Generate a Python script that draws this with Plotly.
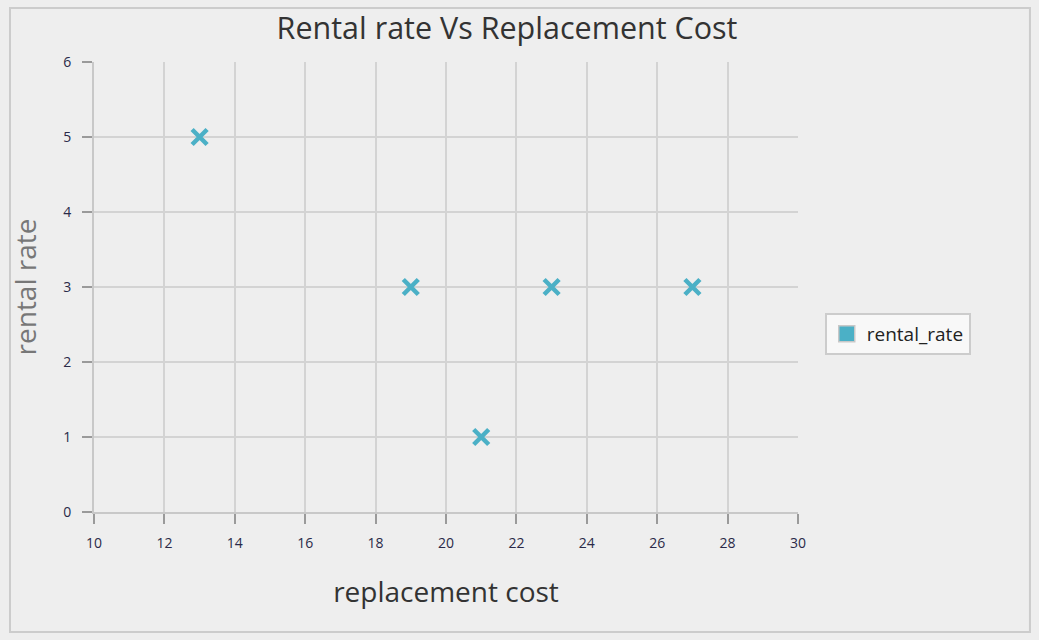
import plotly.graph_objects as go

replacement_cost = [13, 19, 21, 23, 27]
rental_rate = [5, 3, 1, 3, 3]
series_name = "rental_rate"
x_ticks = [10, 12, 14, 16, 18, 20, 22, 24, 26, 28, 30]
y_ticks = [0, 1, 2, 3, 4, 5, 6]

color = "#4bb0c6"
FONT = "Open Sans"
fig = go.Figure()
fig.add_trace(go.Scatter(
    x=replacement_cost, y=rental_rate, mode="markers", name=series_name,
    showlegend=False,
    marker=dict(symbol="x-thin", size=15, color=color,
                line=dict(width=4.5, color=color)),
))
fig.add_trace(go.Scatter(
    x=[None], y=[None], mode="markers", name=series_name, showlegend=True,
    marker=dict(symbol="square", size=20, color=color,
                line=dict(width=1.5, color="#c8c8c8")),
))

axis_common = dict(
    showgrid=True, gridcolor="#d3d3d3", gridwidth=2,
    showline=True, linecolor="#c8c8c8", linewidth=2,
    ticks="outside", ticklen=10, tickcolor="#9a9a9a", tickwidth=2,
    zeroline=False,
    tickfont=dict(family=FONT, size=14, color="#2a2a48"),
)
fig.update_xaxes(range=[10, 30], tickvals=x_ticks, **axis_common,
                 ticklabelstandoff=7,
                 title=dict(text="replacement cost", standoff=32,
                            font=dict(family=FONT, size=28, color="#333333")))
fig.update_yaxes(range=[0, 6], tickvals=y_ticks, **axis_common,
                 ticklabelstandoff=8,
                 title=dict(text="rental rate", standoff=18,
                            font=dict(family=FONT, size=28, color="#777777")))

fig.update_layout(
    width=1039, height=640,
    margin=dict(l=94, r=241, t=62, b=128),
    paper_bgcolor="#eeeeee", plot_bgcolor="#eeeeee",
    title=dict(text="Rental rate Vs Replacement Cost", x=0.488, xanchor="center",
               y=0.955, yanchor="middle",
               font=dict(family=FONT, size=30.5, color="#333333")),
    legend=dict(x=1.038, y=0.396, xanchor="left", yanchor="middle",
                bgcolor="#f8f8f8", bordercolor="#cccccc", borderwidth=2,
                font=dict(family=FONT, size=19, color="#222222")),
    shapes=[dict(type="rect", xref="paper", yref="paper",
                 x0=-0.1193, x1=1.3295, y0=-0.2667, y1=1.12, layer="below",
                 line=dict(color="#cccccc", width=2), fillcolor="rgba(0,0,0,0)")],
)

fig.write_html("out.html", config={"displayModeBar": False},
               post_script="document.body.style.margin='0';document.body.style.background='#eeeeee';")
